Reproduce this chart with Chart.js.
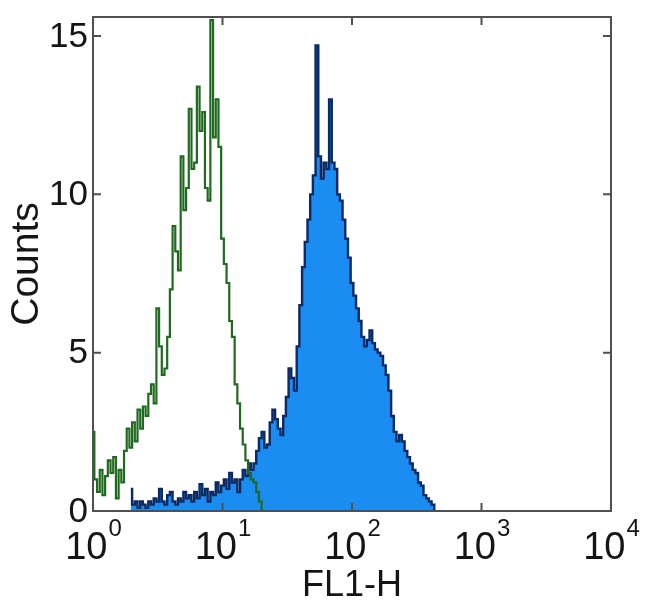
<!DOCTYPE html>
<html>
<head>
<meta charset="utf-8">
<script src="https://cdn.jsdelivr.net/npm/chart.js@4/dist/chart.umd.min.js"></script>
<style>
  html, body { margin: 0; padding: 0; background: #fff; }
  #wrap { width: 650px; height: 616px; }
</style>
</head>
<body>
<div id="wrap"><canvas id="histo" width="650" height="616"></canvas></div>
<script>
// Histogram channels: 48 channels per decade, log scale 10^0 .. 10^4
const CHANNELS_PER_DECADE = 48;

// Green (control) histogram, starts at channel 0
const greenStart = 0;
const greenCounts = [
    2.5, 1.0, 0.6, 1.3, 0.5, 1.1, 1.6, 1.2, 1.7, 0.4,
    1.3, 0.9, 1.9, 2.6, 2.0, 2.8, 2.2, 3.2, 2.6, 3.3,
    3.0, 3.7, 4.0, 3.4, 6.4, 5.2, 4.3, 4.5, 5.5, 7.0,
    9.0, 8.2, 7.6, 11.2, 9.5, 10.2, 12.7, 10.8, 11.0, 13.4,
    12.0, 12.6, 10.2, 9.8, 15.5, 11.8, 13.0, 11.5, 8.6, 7.8,
    7.2, 6.0, 5.5, 4.0, 3.4, 2.6, 2.1, 1.6, 1.2, 1.0,
    0.9, 0.6, 0.3, 0.0
];

// Blue (stained) histogram, starts at channel 14
const blueStart = 14;
const blueCounts = [
    0.7, 0.2, 0.3, 0.1, 0.3, 0.2, 0.1, 0.3, 0.2, 0.4,
    0.3, 0.7, 0.3, 0.2, 0.5, 0.6, 0.3, 0.2, 0.4, 0.3,
    0.6, 0.4, 0.5, 0.3, 0.6, 0.4, 0.85, 0.5, 0.7, 0.3,
    0.6, 0.5, 0.9, 0.6, 0.8, 1.0, 0.7, 1.2, 0.9, 1.0,
    0.6, 1.0, 1.3, 1.1, 1.5, 1.3, 1.5, 1.9, 2.3, 2.5,
    2.0, 2.1, 2.8, 3.2, 2.9, 2.6, 2.4, 3.0, 3.6, 4.5,
    4.2, 3.8, 5.2, 6.5, 7.7, 8.5, 9.2, 10.0, 10.6, 14.7,
    11.2, 10.5, 11.0, 10.8, 13.0, 11.0, 10.8, 10.0, 9.8, 9.2,
    8.6, 8.0, 7.2, 6.8, 6.4, 6.0, 5.5, 5.2, 5.4, 5.7,
    5.3, 5.1, 5.0, 4.9, 4.6, 4.3, 3.8, 3.0, 2.5, 2.2,
    2.4, 2.2, 1.9, 1.7, 1.5, 1.3, 1.2, 0.9, 0.8, 0.5,
    0.4, 0.3, 0.2, 0.0
];

// Axes
const xTickExponents = ['0', '1', '2', '3', '4'];
const yTicks = [0, 5, 10, 15];
const yMax = 15.6;
const xTitle = 'FL1-H';
const yTitle = 'Counts';

const FONT = '"Liberation Sans", Arial, sans-serif';

function toPoints(start, counts) {
    return counts.map((c, i) => ({
        x: Math.pow(10, (start + i) / CHANNELS_PER_DECADE),
        y: c
    }));
}

// Frame, ticks and labels drawn from the chart's own scales
const framePlugin = {
    id: 'frame',
    afterDatasetsDraw(chart) {
        const ctx = chart.ctx;
        const a = chart.chartArea;
        const xs = chart.scales.x;
        const ys = chart.scales.y;
        const tick = 8;

        ctx.save();
        ctx.strokeStyle = '#505050';
        ctx.lineWidth = 2;
        ctx.strokeRect(a.left, a.top, a.right - a.left, a.bottom - a.top);

        ctx.beginPath();
        yTicks.forEach(v => {
            const py = ys.getPixelForValue(v);
            ctx.moveTo(a.left, py); ctx.lineTo(a.left + tick, py);
            ctx.moveTo(a.right, py); ctx.lineTo(a.right - tick, py);
        });
        xTickExponents.forEach(e => {
            const px = xs.getPixelForValue(Math.pow(10, Number(e)));
            ctx.moveTo(px, a.bottom); ctx.lineTo(px, a.bottom - tick);
            ctx.moveTo(px, a.top); ctx.lineTo(px, a.top + tick);
        });
        ctx.stroke();

        ctx.fillStyle = '#151515';

        // y tick labels
        ctx.font = '35px ' + FONT;
        ctx.textAlign = 'right';
        ctx.textBaseline = 'middle';
        yTicks.forEach(v => {
            ctx.fillText(String(v), a.left - 5, ys.getPixelForValue(v) + 1);
        });

        // x tick labels: 10 with raised exponent
        ctx.textBaseline = 'alphabetic';
        ctx.textAlign = 'left';
        xTickExponents.forEach(e => {
            const px = xs.getPixelForValue(Math.pow(10, Number(e)));
            ctx.font = '38px ' + FONT;
            const wBase = ctx.measureText('10').width;
            ctx.font = '24px ' + FONT;
            const wExp = ctx.measureText(e).width;
            const x0 = px - (wBase + wExp) / 2;
            ctx.font = '38px ' + FONT;
            ctx.fillText('10', x0, a.bottom + 48);
            ctx.font = '24px ' + FONT;
            ctx.fillText(e, x0 + wBase + 1, a.bottom + 25);
        });

        // axis titles
        ctx.font = '36px ' + FONT;
        ctx.textAlign = 'center';
        ctx.fillText(xTitle, xs.getPixelForValue(100), a.bottom + 85);

        ctx.font = '39px ' + FONT;
        ctx.translate(27, (a.top + a.bottom) / 2);
        ctx.rotate(-Math.PI / 2);
        ctx.textBaseline = 'middle';
        ctx.fillText(yTitle, 0, 0);
        ctx.restore();
    }
};

const ctx = document.getElementById('histo').getContext('2d');
new Chart(ctx, {
    type: 'line',
    data: {
        datasets: [
            {
                label: 'control',
                data: toPoints(greenStart, greenCounts),
                stepped: 'middle',
                borderColor: '#206a20',
                borderWidth: 2.2,
                pointRadius: 0,
                fill: false
            },
            {
                label: 'stained',
                data: toPoints(blueStart, blueCounts),
                stepped: 'middle',
                borderColor: '#0b2a63',
                borderWidth: 2.4,
                backgroundColor: '#1a8cf2',
                pointRadius: 0,
                fill: 'origin'
            }
        ]
    },
    options: {
        responsive: false,
        animation: false,
        layout: { padding: { left: 93, right: 39, top: 17, bottom: 105 } },
        plugins: {
            legend: { display: false },
            tooltip: { enabled: false }
        },
        scales: {
            x: { type: 'logarithmic', min: 1, max: 10000, display: false },
            y: { type: 'linear', min: 0, max: yMax, display: false }
        }
    },
    plugins: [framePlugin]
});
</script>
</body>
</html>
